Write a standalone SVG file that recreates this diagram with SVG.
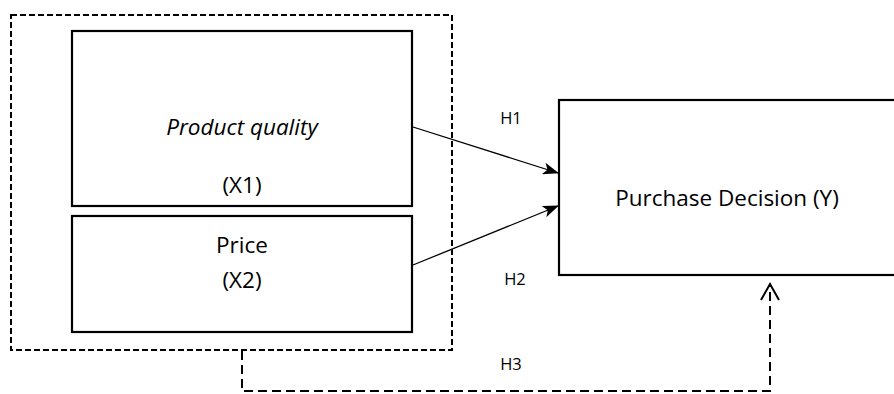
<svg xmlns="http://www.w3.org/2000/svg" width="894" height="394" viewBox="0 0 894 394">
<style>
.box{fill:#fff;stroke:#000;stroke-width:2.2}
.group{fill:none;stroke:#000;stroke-width:2;stroke-dasharray:6 3}
.t{font-family:"Open Sans","Liberation Sans",sans-serif;font-size:22.5px;fill:#000;text-anchor:middle}
.lbl{font-family:"Open Sans","Liberation Sans",sans-serif;font-size:16.5px;fill:#000;text-anchor:middle}
.conn{fill:none;stroke:#000;stroke-width:1.3}
.dconn{fill:none;stroke:#000;stroke-width:2;stroke-dasharray:9 5}
</style>
<defs>
<marker id="ah" markerWidth="16" markerHeight="12" refX="15" refY="6" orient="auto" markerUnits="userSpaceOnUse">
<path d="M0,0 L16,6 L0,12 L4,6 Z" fill="#000"/>
</marker>
</defs>
<rect width="894" height="394" fill="#fff"/>
<g id="group-x">
<rect class="group" x="11" y="15" width="441" height="335"/>
</g>
<g id="node-x1">
<rect class="box" x="72" y="31" width="340" height="175"/>
<text class="t" x="242" y="135" font-style="italic">Product quality</text>
<text class="t" x="242" y="193">(X1)</text>
</g>
<g id="node-x2">
<rect class="box" x="72" y="216" width="340" height="116"/>
<text class="t" x="242" y="253">Price</text>
<text class="t" x="242" y="288">(X2)</text>
</g>
<g id="node-y">
<rect class="box" x="559" y="100" width="345" height="175"/>
<text class="t" x="727" y="206">Purchase Decision (Y)</text>
</g>
<g id="connectors">
<line class="conn" x1="413" y1="127" x2="558" y2="173" marker-end="url(#ah)"/>
<line class="conn" x1="413" y1="265" x2="558" y2="206" marker-end="url(#ah)"/>
<path class="dconn" d="M242,351 V391 H770 V286"/>
<path d="M761,300 L770,284 L779,300" fill="none" stroke="#000" stroke-width="2"/>
<text class="lbl" x="511" y="124">H1</text>
<text class="lbl" x="515" y="285">H2</text>
<text class="lbl" x="511" y="370">H3</text>
</g>
</svg>
